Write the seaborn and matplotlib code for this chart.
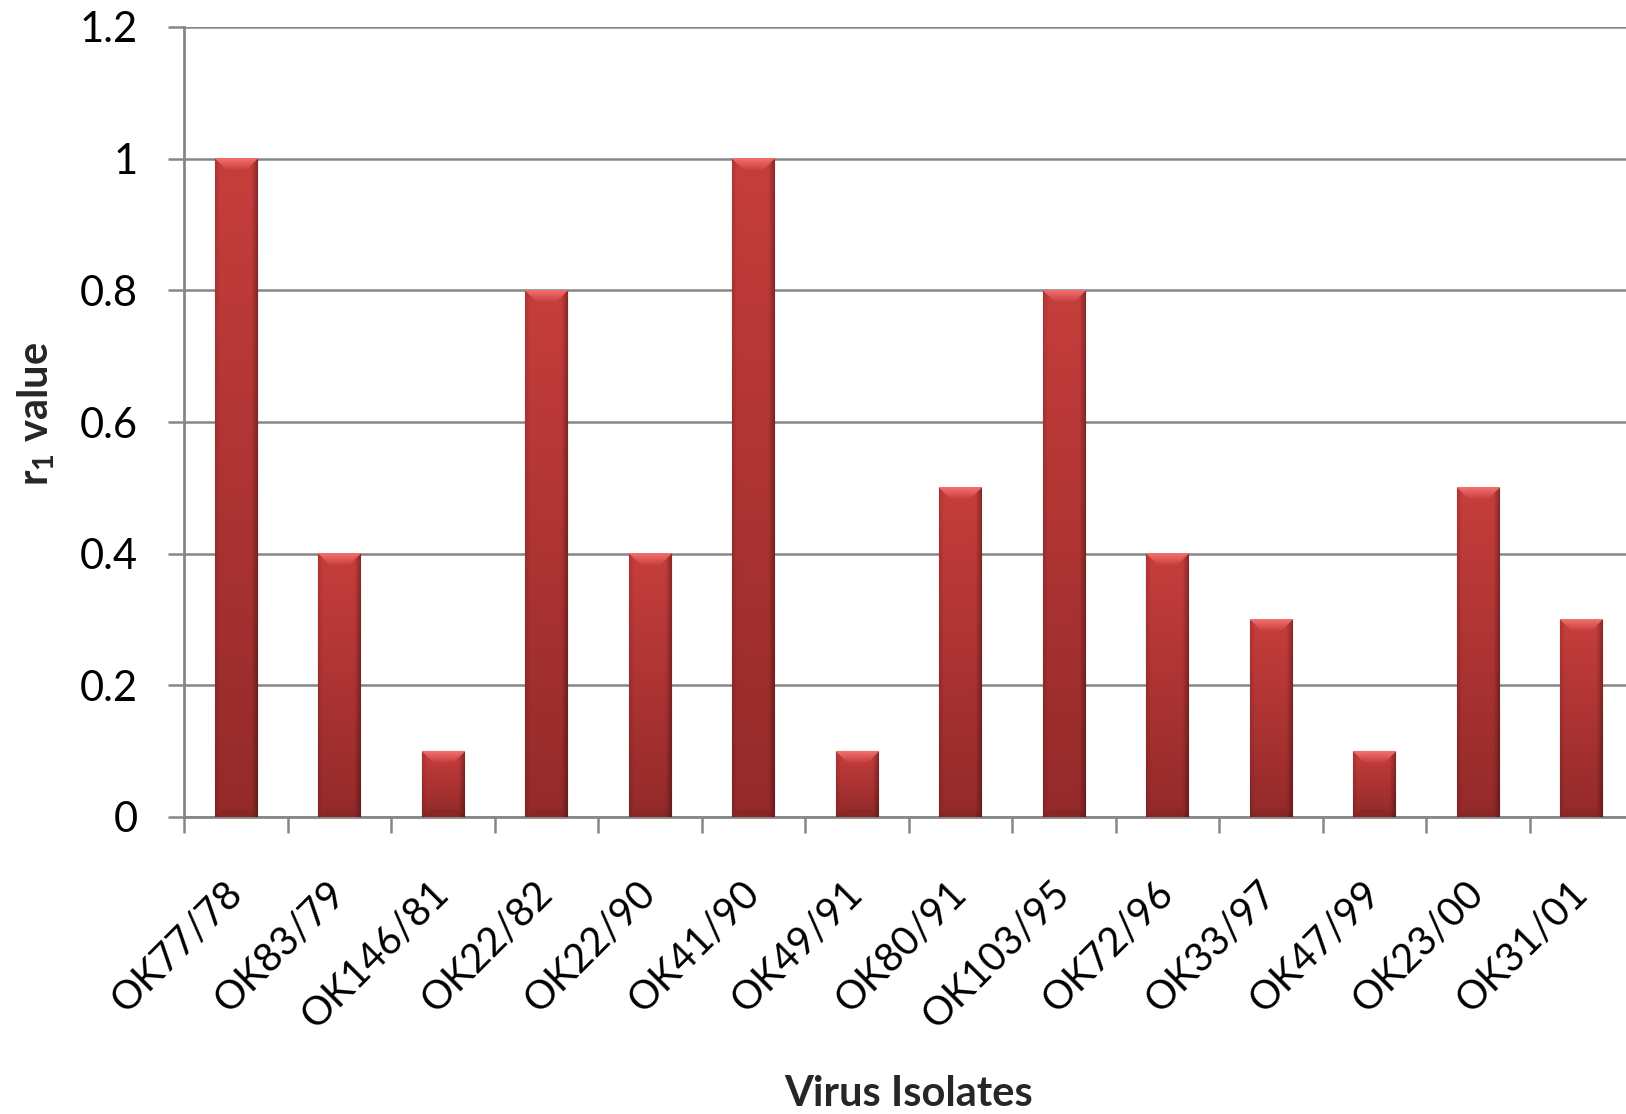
import numpy as np
import pandas as pd
import matplotlib
matplotlib.use("Agg")
import matplotlib.pyplot as plt
import seaborn as sns

isolates = ["OK77/78", "OK83/79", "OK146/81", "OK22/82", "OK22/90", "OK41/90", "OK49/91",
            "OK80/91", "OK103/95", "OK72/96", "OK33/97", "OK47/99", "OK23/00", "OK31/01"]
r1_values = [1.0, 0.4, 0.1, 0.8, 0.4, 1.0, 0.1, 0.5, 0.8, 0.4, 0.3, 0.1, 0.5, 0.3]
y_ticks = [0, 0.2, 0.4, 0.6, 0.8, 1.0, 1.2]
y_tick_labels = ["0", "0.2", "0.4", "0.6", "0.8", "1", "1.2"]

sns.set_theme(style="white")
plt.rcParams["font.family"] = ["Lato", "DejaVu Sans"]
plt.rcParams["mathtext.fontset"] = "custom"
plt.rcParams["mathtext.rm"] = "Lato"
plt.rcParams["mathtext.bf"] = "Lato:bold"

df = pd.DataFrame({"isolate": isolates, "r1": r1_values})

W_PX, H_PX, DPI = 1626, 1114, 100
fig = plt.figure(figsize=(W_PX / DPI, H_PX / DPI), dpi=DPI)
ax = fig.add_axes([184 / W_PX, (H_PX - 817) / H_PX, 1449 / W_PX, 790 / H_PX])

sns.barplot(data=df, x="isolate", y="r1", ax=ax, color="#C03A3A", width=0.41,
            edgecolor="#6E1C1C", linewidth=0.8, zorder=3)

n = len(isolates)
ax.set_xlim(-0.5, n - 0.5)
ax.set_ylim(0, 1.2)
ax.set_yticks(y_ticks)
ax.set_yticklabels(y_tick_labels)

grid_c = "#868686"
ax.set_axisbelow(True)
ax.yaxis.grid(True, color=grid_c, linewidth=1.8)
ax.xaxis.grid(False)
for s in ["top", "right"]:
    ax.spines[s].set_visible(False)
for s in ["left", "bottom"]:
    ax.spines[s].set_color(grid_c)
    ax.spines[s].set_linewidth(2.0)

# ticks
ax.set_xticks(np.arange(n))
ax.set_xticklabels(isolates, rotation=45, ha="right", va="center", rotation_mode="anchor")
ax.set_xticks(np.arange(n + 1) - 0.5, minor=True)
ax.tick_params(axis="x", which="major", length=0, pad=51, labelsize=28.5, colors="black")
ax.tick_params(axis="x", which="minor", length=11.5, width=1.8, color=grid_c, direction="out", bottom=True)
ax.tick_params(axis="y", which="major", length=11.5, width=1.8, color=grid_c, direction="out",
               left=True, pad=22, labelsize=30, labelcolor="black")

ax.set_xlabel("Virus Isolates", fontsize=30, fontweight="bold", va="center")
ax.xaxis.set_label_coords(0.5, -0.351)
ax.set_ylabel(r"r$_{\mathbf{1}}$ value", fontsize=30, fontweight="bold", va="center")
ax.yaxis.set_label_coords(-0.102, 0.51)

# gradient fill for bars (Excel-like bevel)
def bar_image(H, W):
    H = max(H, 2); W = max(W, 2)
    rows = np.arange(H)[:, None].astype(float)
    cols = np.arange(W)[None, :].astype(float)
    t = rows / (H - 1)
    top = np.array([198, 62, 60.0]); bot = np.array([148, 42, 42.0])
    base = top[None, None, :] * (1 - t[..., None]) + bot[None, None, :] * t[..., None]
    base = np.broadcast_to(base, (H, W, 3)).copy()
    u = cols / (W - 1)
    shade = 1 - 0.30 * np.clip((u - 0.86) / 0.14, 0, 1) - 0.12 * np.clip((0.1 - u) / 0.1, 0, 1)
    img = base * shade[..., None]
    b = min(12, H // 3)
    if b > 0:
        light = np.array([242, 112, 110.0])
        for r in range(b):
            frac = r / b
            c = light * (1 - frac) + img[r] * frac
            inside = (np.arange(W) >= r) & (np.arange(W) < W - r)
            img[r, inside] = c[inside]
    bb = min(8, H // 4)
    for r in range(bb):
        rr = H - 1 - r
        inside = (np.arange(W) >= r) & (np.arange(W) < W - r)
        img[rr, inside] = img[rr, inside] * 0.93
    return np.clip(img, 0, 255).astype(np.uint8)

fig.canvas.draw()
for p in list(ax.patches):
    x0, y0 = p.get_x(), p.get_y()
    w, h = p.get_width(), p.get_height()
    (px0, py0) = ax.transData.transform((x0, y0))
    (px1, py1) = ax.transData.transform((x0 + w, y0 + h))
    img = bar_image(int(round(py1 - py0)), int(round(px1 - px0)))
    ax.imshow(img, extent=(x0, x0 + w, y0, y0 + h), aspect="auto", zorder=3.5,
              interpolation="bilinear", clip_path=p)
ax.set_xlim(-0.5, n - 0.5)
ax.set_ylim(0, 1.2)
ax.set_aspect("auto")

fig.savefig("out.png", dpi=DPI, facecolor="white")
